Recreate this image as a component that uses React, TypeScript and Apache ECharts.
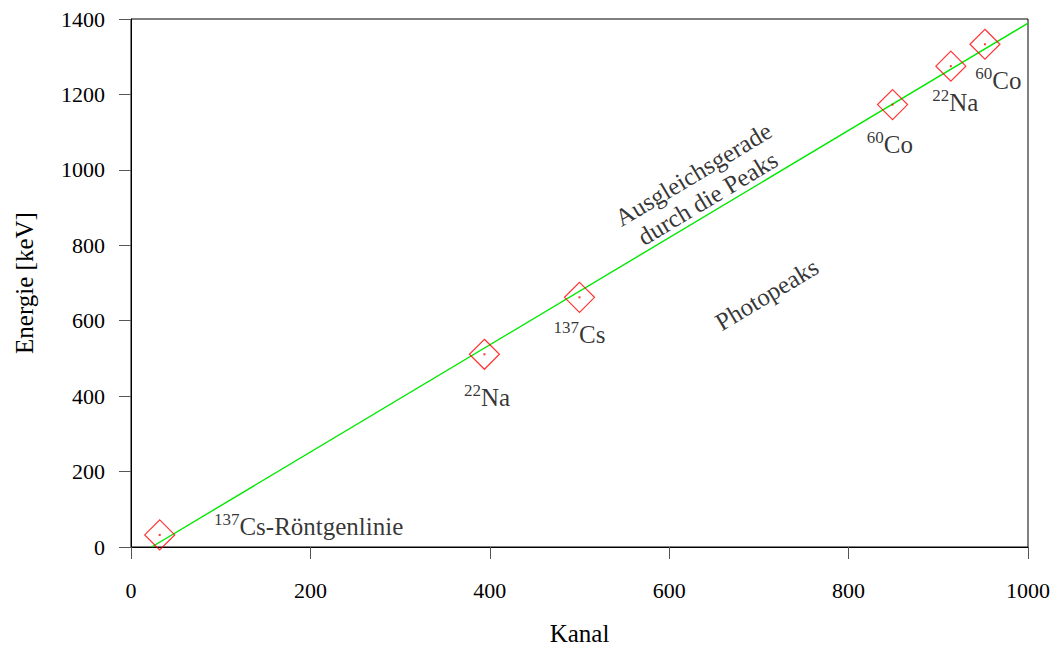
import React, { useEffect, useRef } from "react";
import * as echarts from "echarts";

// Peak positions: channel (Kanal) and energy (keV)
const peakChannels = [32, 394, 500, 849, 914, 952];
const peakEnergies = [32, 511, 662, 1173, 1275, 1333];

// Fit line end points (Ausgleichsgerade)
const fitChannels = [23, 1000];
const fitEnergies = [0, 1389];

// Annotation texts and their anchor points in data units
const annoTexts = [
  "{sup|137}{base|Cs-Röntgenlinie}",
  "{sup|22}{base|Na}",
  "{sup|137}{base|Cs}",
  "{sup|60}{base|Co}",
  "{sup|22}{base|Na}",
  "{sup|60}{base|Co}",
  "{base|Ausgleichsgerade}\n{base|durch die Peaks}",
  "{base|Photopeaks}",
];
const annoX = [198, 397, 500, 846, 919, 967, 634, 708];
const annoY = [58, 400, 567, 1071, 1183, 1241, 960, 673];
const annoRotate = [0, 0, 0, 0, 0, 0, 31, 31];

const xTicks = { min: 0, max: 1000, interval: 200 };
const yTicks = { min: 0, max: 1400, interval: 200 };

const FONT = "Liberation Serif";

export default function App() {
  const ref = useRef<HTMLDivElement>(null);
  useEffect(() => {
    if (!ref.current) return;
    const chart = echarts.init(ref.current, undefined, { renderer: "svg" });
    const rich = {
      base: { fontFamily: FONT, fontSize: 25, color: "#000", lineHeight: 28, verticalAlign: "bottom" },
      sup: { fontFamily: FONT, fontSize: 17, color: "#000", lineHeight: 14, verticalAlign: "top" },
    };
    chart.setOption({
      animation: false,
      backgroundColor: "#fff",
      textStyle: { fontFamily: FONT },
      grid: {
        left: 131,
        right: 31,
        top: 19,
        bottom: 99,
        show: true,
        borderColor: "#000",
        borderWidth: 1,
        containLabel: false,
        outerBoundsMode: "none",
      },
      xAxis: {
        type: "value",
        min: xTicks.min,
        max: xTicks.max,
        interval: xTicks.interval,
        name: "Kanal",
        nameLocation: "middle",
        nameGap: 74,
        nameTextStyle: { fontFamily: FONT, fontSize: 25, color: "#000" },
        axisLine: { show: true, lineStyle: { color: "#000", width: 1 } },
        axisTick: { show: true, inside: false, length: 12, lineStyle: { color: "#555" } },
        axisLabel: {
          margin: 32,
          fontFamily: FONT,
          fontSize: 22,
          color: "#000",
          formatter: (v: number) => String(v),
        },
        splitLine: { show: false },
      },
      yAxis: {
        type: "value",
        min: yTicks.min,
        max: yTicks.max,
        interval: yTicks.interval,
        name: "Energie [keV]",
        nameLocation: "middle",
        nameGap: 94,
        nameRotate: 90,
        nameTextStyle: { fontFamily: FONT, fontSize: 25, color: "#000" },
        axisLine: { show: true, lineStyle: { color: "#000", width: 1 } },
        axisTick: { show: true, inside: false, length: 12, lineStyle: { color: "#555" } },
        axisLabel: {
          margin: 26,
          fontFamily: FONT,
          fontSize: 22,
          color: "#000",
          formatter: (v: number) => String(v),
        },
        splitLine: { show: false },
      },
      series: [
        {
          type: "line",
          data: fitChannels.map((c, i) => [c, fitEnergies[i]]),
          showSymbol: false,
          symbol: "none",
          lineStyle: { color: "#00e800", width: 1.4 },
          z: 2,
        },
        {
          type: "scatter",
          data: peakChannels.map((c, i) => [c, peakEnergies[i]]),
          symbol: "diamond",
          symbolSize: 30,
          itemStyle: { color: "rgba(0,0,0,0)", borderColor: "#ff0000", borderWidth: 1.2 },
          z: 3,
        },
        {
          type: "scatter",
          data: peakChannels.map((c, i) => [c, peakEnergies[i]]),
          symbol: "rect",
          symbolSize: 2,
          itemStyle: { color: "#ff0000" },
          z: 4,
        },
        {
          type: "scatter",
          symbolSize: 0,
          silent: true,
          z: 5,
          data: annoTexts.map((t, i) => ({
            value: [annoX[i], annoY[i]],
            label: {
              show: true,
              position: "inside",
              formatter: t,
              rotate: annoRotate[i],
              align: "center",
              verticalAlign: "middle",
              rich,
            },
          })),
        },
      ],
    });
    return () => chart.dispose();
  }, []);
  return (
    <div
      ref={ref}
      style={{ position: "fixed", left: 0, top: 0, width: 1059, height: 646, background: "#fff" }}
    />
  );
}
